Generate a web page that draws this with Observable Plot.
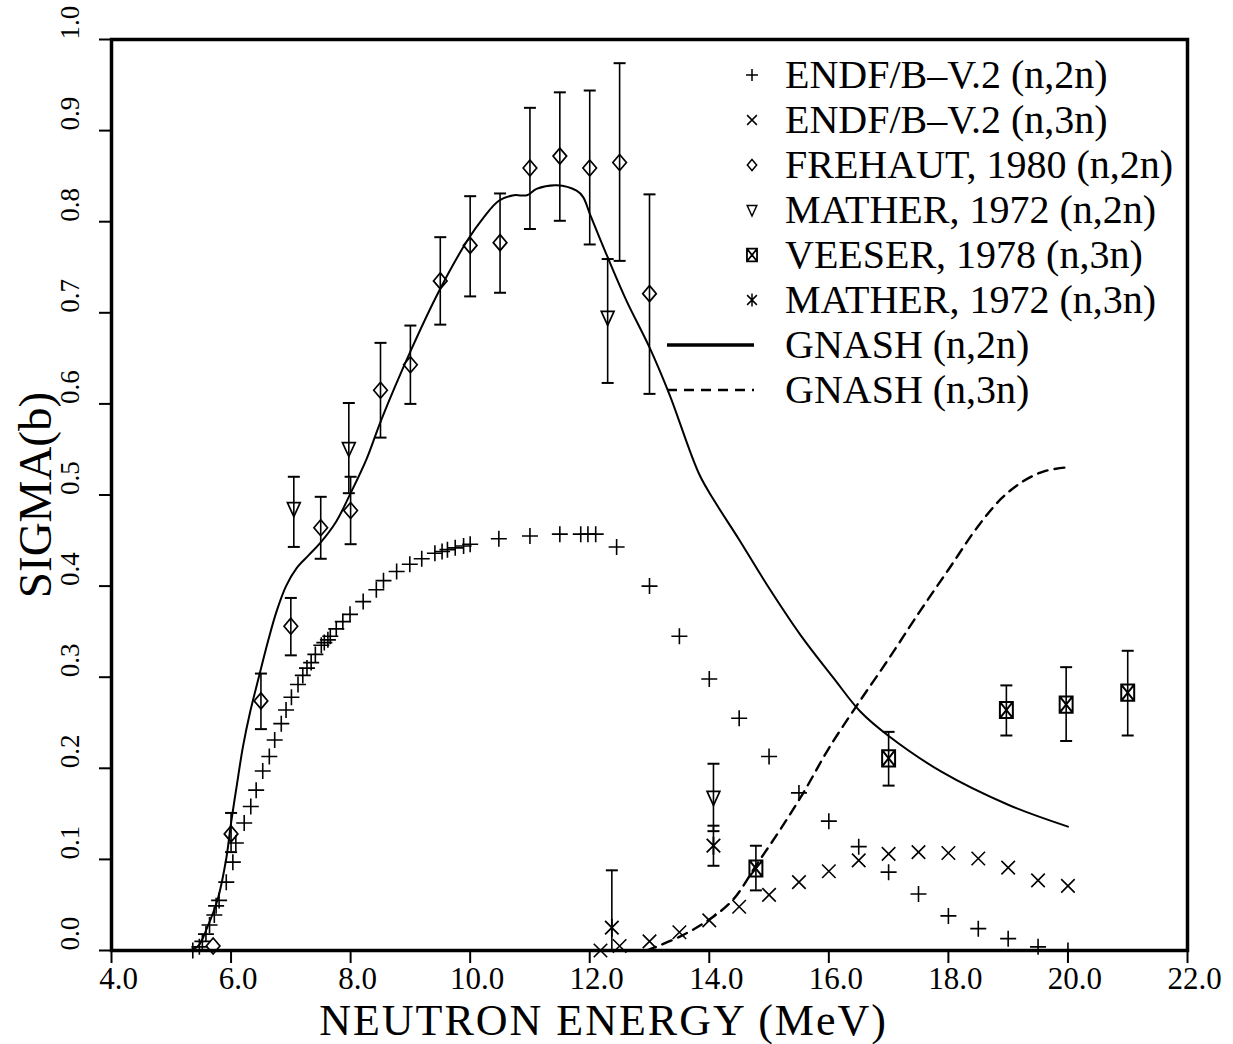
<!DOCTYPE html>
<html><head><meta charset="utf-8">
<script src="https://cdn.jsdelivr.net/npm/d3@7"></script>
<script src="https://cdn.jsdelivr.net/npm/@observablehq/plot@0.6"></script>
<style>
html,body{margin:0;padding:0;background:#fff;}
#wrap{position:relative;width:1233px;height:1044px;}
</style></head><body><div id="wrap"></div>
<script>
// ---------- data ----------
const xTicks = [4, 6, 8, 10, 12, 14, 16, 18, 20, 22];
const yTicks = [0, 0.1, 0.2, 0.3, 0.4, 0.5, 0.6, 0.7, 0.8, 0.9, 1.0];
const xLabel = "NEUTRON ENERGY (MeV)";
const yLabel = "SIGMA(b)";

// ENDF/B-V.2 (n,2n)
const endf2nE = [5.36,5.47,5.52,5.58,5.64,5.72,5.75,5.8,5.92,6.03,6.08,6.22,6.33,6.42,6.53,6.64,6.73,6.84,6.92,7.01,7.12,7.2,7.27,7.34,7.41,7.51,7.56,7.62,7.66,7.76,7.87,7.99,8.21,8.43,8.55,8.77,8.99,9.19,9.41,9.53,9.62,9.75,9.89,10.0,10.48,11.0,11.5,11.85,11.97,12.1,12.45,13.0,13.5,14.0,14.5,15.0,15.5,16.0,16.5,17.0,17.5,18.0,18.5,19.0,19.5,20.0];
const endf2nS = [0.0,0.004,0.01,0.018,0.028,0.039,0.049,0.055,0.075,0.097,0.118,0.14,0.158,0.176,0.197,0.213,0.231,0.249,0.264,0.278,0.292,0.302,0.31,0.316,0.325,0.335,0.338,0.341,0.345,0.353,0.361,0.369,0.383,0.396,0.406,0.416,0.424,0.43,0.436,0.438,0.44,0.442,0.444,0.446,0.452,0.455,0.457,0.457,0.457,0.457,0.443,0.400,0.345,0.298,0.255,0.213,0.173,0.142,0.114,0.086,0.062,0.038,0.024,0.013,0.004,0.0];

// ENDF/B-V.2 (n,3n)
const endf3nE = [12.18,12.5,13.0,13.5,14.0,14.5,15.0,15.5,16.0,16.5,17.0,17.5,18.0,18.5,19.0,19.5,20.0];
const endf3nS = [0.0,0.005,0.01,0.02,0.033,0.048,0.061,0.075,0.087,0.099,0.106,0.108,0.107,0.101,0.091,0.077,0.071];

// FREHAUT, 1980 (n,2n)
const frehautE  = [5.7,6.0,6.5,7.0,7.5,8.0,8.5,9.0,9.5,10.0,10.5,11.0,11.5,12.0,12.5,13.0];
const frehautS  = [0.005,0.128,0.274,0.356,0.464,0.483,0.615,0.643,0.735,0.774,0.777,0.859,0.872,0.859,0.865,0.721];
const frehautLo = [null,0.108,0.243,0.324,0.430,0.446,0.563,0.600,0.687,0.718,0.722,0.792,0.801,0.775,0.757,0.611];
const frehautHi = [null,0.151,0.304,0.387,0.498,0.520,0.667,0.686,0.783,0.828,0.831,0.925,0.942,0.944,0.974,0.830];

// MATHER, 1972 (n,2n)
const mather2nE  = [7.05,7.97,12.3,14.07];
const mather2nS  = [0.485,0.551,0.695,0.168];
const mather2nLo = [0.443,0.502,0.623,0.131];
const mather2nHi = [0.520,0.601,0.759,0.205];

// VEESER, 1978 (n,3n)
const veeserE  = [14.78,17.0,18.97,19.97,21.0];
const veeserS  = [0.090,0.211,0.264,0.270,0.283];
const veeserLo = [0.066,0.181,0.236,0.230,0.236];
const veeserHi = [0.115,0.240,0.291,0.311,0.329];

// MATHER, 1972 (n,3n)
const mather3nE  = [12.37,14.07];
const mather3nS  = [0.025,0.115];
const mather3nLo = [0.0,0.093];
const mather3nHi = [0.088,0.137];

// GNASH (n,2n)
const gnash2nE = [5.3,5.45,5.6,5.78,5.92,6.0,6.1,6.2,6.32,6.48,6.62,6.76,6.92,7.1,7.3,7.5,7.76,8.0,8.27,8.51,9.01,9.48,9.95,10.23,10.48,10.73,10.95,11.11,11.45,11.78,11.89,12.0,12.3,12.61,13.0,13.33,13.83,14.1,14.49,14.97,15.53,16.08,16.53,16.99,17.89,19.0,20.0];
const gnash2nS = [0.0,0.005,0.025,0.057,0.101,0.14,0.183,0.224,0.262,0.304,0.34,0.372,0.4,0.42,0.434,0.448,0.471,0.502,0.540,0.582,0.659,0.724,0.779,0.805,0.823,0.829,0.829,0.836,0.840,0.834,0.827,0.809,0.761,0.714,0.662,0.611,0.523,0.492,0.452,0.401,0.346,0.299,0.262,0.236,0.196,0.160,0.136];

// GNASH (n,3n)
const gnash3nE = [12.95,13.5,14.0,14.4,14.8,15.2,15.6,16.0,16.5,17.0,17.5,18.0,18.5,18.9,19.25,19.6,19.94];
const gnash3nS = [0.0,0.015,0.034,0.056,0.095,0.134,0.176,0.222,0.272,0.32,0.37,0.418,0.466,0.497,0.515,0.526,0.53];

const legendLabels = [
  "ENDF/B\u2013V.2 (n,2n)",
  "ENDF/B\u2013V.2 (n,3n)",
  "FREHAUT, 1980 (n,2n)",
  "MATHER, 1972 (n,2n)",
  "VEESER, 1978 (n,3n)",
  "MATHER, 1972 (n,3n)",
  "GNASH (n,2n)",
  "GNASH (n,3n)"
];
const legendKinds = ["plus","times","diamond","triDown","boxX","asterisk","solid","dashed"];

// ---------- helpers ----------
const pts = (E, S, lo, hi) => E.map((e, i) => ({E: e, S: S[i], lo: lo ? lo[i] : null, hi: hi ? hi[i] : null}));
const endf2n = pts(endf2nE, endf2nS);
const endf3n = pts(endf3nE, endf3nS);
const frehaut = pts(frehautE, frehautS, frehautLo, frehautHi);
const mather2n = pts(mather2nE, mather2nS, mather2nLo, mather2nHi);
const veeser = pts(veeserE, veeserS, veeserLo, veeserHi);
const mather3n = pts(mather3nE, mather3nS, mather3nLo, mather3nHi);
const gnash2n = pts(gnash2nE, gnash2nS);
const gnash3n = pts(gnash3nE, gnash3nS);
const errData = [...frehaut, ...mather2n, ...veeser, ...mather3n].filter(d => d.hi != null);

const shapes = {
  plus: (c, r) => { c.moveTo(-r, 0); c.lineTo(r, 0); c.moveTo(0, -r); c.lineTo(0, r); },
  times: (c, r) => { const a = r * 0.75; c.moveTo(-a, -a); c.lineTo(a, a); c.moveTo(-a, a); c.lineTo(a, -a); },
  diamond: (c, r) => { c.moveTo(0, -r); c.lineTo(0.85 * r, 0); c.lineTo(0, r); c.lineTo(-0.85 * r, 0); c.closePath(); },
  triDown: (c, r) => { c.moveTo(-0.8 * r, -0.75 * r); c.lineTo(0.8 * r, -0.75 * r); c.lineTo(0, r); c.closePath(); },
  boxX: (c, r) => { const w = 0.72 * r, h = 0.9 * r; c.rect(-w, -h, 2 * w, 2 * h); c.moveTo(-w, -h); c.lineTo(w, h); c.moveTo(-w, h); c.lineTo(w, -h); },
  asterisk: (c, r) => { c.moveTo(0, -r); c.lineTo(0, r); const a = 0.75 * r; c.moveTo(-a, -a); c.lineTo(a, a); c.moveTo(-a, a); c.lineTo(a, -a); },
  cap: (c, r) => { c.moveTo(-r, 0); c.lineTo(r, 0); }
};
const sym = k => ({ draw(ctx, size) { shapes[k](ctx, Math.sqrt(size / Math.PI)); } });
const f1 = d3.format(".1f");
const dotOpts = (k, r, sw) => ({x: "E", y: "S", symbol: sym(k), r, stroke: "black", fill: "none", strokeWidth: sw});

// ---------- chart ----------
const chart = Plot.plot({
  width: 1233, height: 1044,
  marginLeft: 111, marginRight: 46, marginTop: 39, marginBottom: 94,
  x: {domain: [4, 22]},
  y: {domain: [0, 1]},
  style: {fontFamily: "'Liberation Serif', serif", background: "white", color: "black"},
  marks: [
    Plot.axisX({ticks: xTicks, tickSize: 13, fill: "none", strokeWidth: 2}),
    Plot.axisY({ticks: yTicks, tickSize: 12, fill: "none", strokeWidth: 2}),
    Plot.text(xTicks, {x: d => d, text: d => f1(d), frameAnchor: "bottom", dy: 38, dx: 7, fontSize: 31, lineAnchor: "bottom"}),
    Plot.text(yTicks, {y: d => d, text: d => f1(d), frameAnchor: "left", rotate: -90, textAnchor: "start", lineAnchor: "middle", dx: -41, fontSize: 27}),
    Plot.text([yLabel], {text: d => d, frameAnchor: "left", rotate: -90, textAnchor: "middle", lineAnchor: "middle", dx: -76, fontSize: 47}),
    Plot.text([xLabel], {text: d => d, frameAnchor: "bottom", textAnchor: "middle", lineAnchor: "bottom", dx: -46, dy: 84, fontSize: 44}),
    Plot.line(gnash2n, {x: "E", y: "S", stroke: "black", strokeWidth: 2, curve: "catmull-rom"}),
    Plot.line(gnash3n, {x: "E", y: "S", stroke: "black", strokeWidth: 2.4, strokeDasharray: "10,7", curve: "catmull-rom"}),
    Plot.ruleX(errData, {x: "E", y1: "lo", y2: "hi", stroke: "black", strokeWidth: 1.6}),
    Plot.dot(errData, {x: "E", y: "lo", symbol: sym("cap"), r: 6, stroke: "black", strokeWidth: 2}),
    Plot.dot(errData, {x: "E", y: "hi", symbol: sym("cap"), r: 6, stroke: "black", strokeWidth: 2}),
    Plot.dot(endf2n, dotOpts("plus", 8, 1.6)),
    Plot.dot(endf3n, dotOpts("times", 9, 1.6)),
    Plot.dot(frehaut, dotOpts("diamond", 8, 1.7)),
    Plot.dot(mather2n, dotOpts("triDown", 8, 1.7)),
    Plot.dot(veeser, dotOpts("boxX", 9, 2)),
    Plot.dot(mather3n, dotOpts("asterisk", 9, 1.8)),
    Plot.frame({stroke: "black", strokeWidth: 3.5})
  ]
});

// widen the axis title letter spacing like the reference typeface
d3.select(chart).selectAll("text").filter(function() { return this.textContent === xLabel; })
  .attr("letter-spacing", 2);

const wrap = document.getElementById("wrap");
wrap.appendChild(chart);

// ---------- legend (overlay) ----------
const lg = d3.select(wrap).append("svg")
  .attr("width", 1233).attr("height", 1044)
  .style("position", "absolute").style("left", "0px").style("top", "0px")
  .style("pointer-events", "none");
const row0 = 75, rowStep = 45, symX = 752, textX = 785;
legendLabels.forEach((label, i) => {
  const y = row0 + i * rowStep;
  const kind = legendKinds[i];
  if (kind === "solid" || kind === "dashed") {
    lg.append("line").attr("x1", 667).attr("x2", 754).attr("y1", y).attr("y2", y)
      .attr("stroke", "black").attr("stroke-width", kind === "solid" ? 3.5 : 2.6)
      .attr("stroke-dasharray", kind === "dashed" ? "10,7" : null);
  } else {
    const p = d3.path();
    const r = {plus: 6, times: 6.5, diamond: 5.5, triDown: 6, boxX: 7, asterisk: 6.5}[kind];
    shapes[kind](p, r);
    lg.append("path").attr("d", p.toString()).attr("transform", `translate(${symX},${y})`)
      .attr("fill", "none").attr("stroke", "black").attr("stroke-width", kind === "boxX" ? 1.8 : 1.5);
  }
  lg.append("text").attr("x", textX).attr("y", y).attr("dy", "0.33em")
    .attr("font-family", "'Liberation Serif', serif").attr("font-size", 40).attr("fill", "black")
    .text(label);
});
</script></body></html>
